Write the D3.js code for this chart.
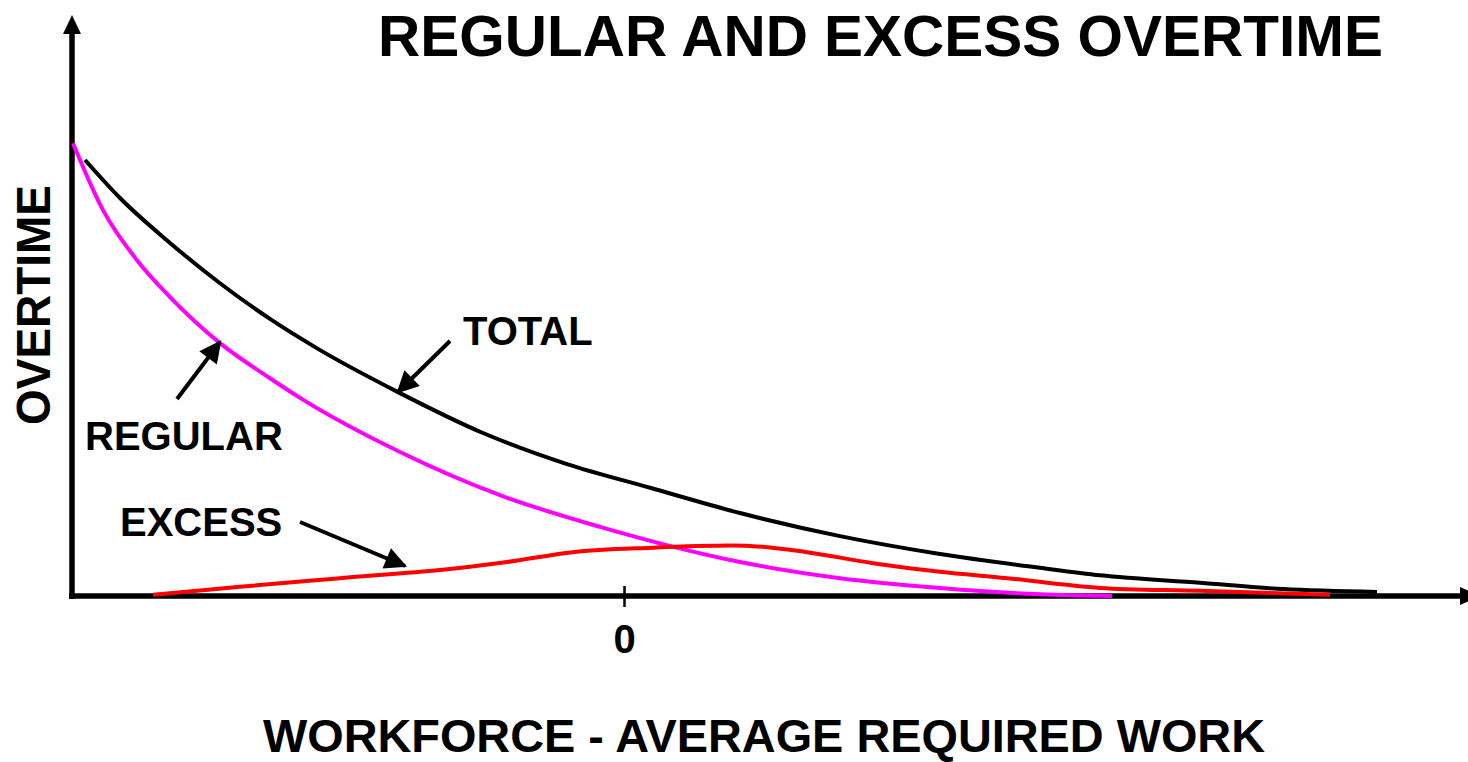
<!DOCTYPE html>
<html>
<head>
<meta charset="utf-8">
<script src="https://cdn.jsdelivr.net/npm/d3@7"></script>
<style>
  body { margin: 0; background: #fff; }
  svg { display: block; }
  text { font-family: "Liberation Sans", Arial, sans-serif; font-weight: bold; fill: #000; }
</style>
</head>
<body>
<div id="chart"></div>
<script>
// workforce minus average required work (0 = tick)
var totalX = [-5.39, -5.04, -4.54, -4.04, -3.54, -3.06, -2.26, -1.41, -0.57, 0.26, 1.16, 2.16, 3.16, 4.16, 4.76, 5.76, 6.59, 7.53];
var totalY = [7.57, 6.91, 6.13, 5.43, 4.81, 4.29, 3.54, 2.83, 2.29, 1.88, 1.44, 1.04, 0.73, 0.49, 0.36, 0.23, 0.12, 0.07];

var regularX = [-5.51, -5.21, -4.87, -4.54, -4.04, -3.54, -3.24, -2.24, -1.24, -0.24, 1.16, 2.16, 3.16, 4.16, 4.88];
var regularY = [7.86, 6.7, 5.83, 5.19, 4.39, 3.78, 3.44, 2.5, 1.75, 1.2, 0.59, 0.31, 0.14, 0.03, 0.0];

var excessX = [-4.71, -3.84, -2.84, -1.84, -1.17, -0.51, 0.16, 1.26, 1.83, 2.49, 3.16, 3.83, 4.76, 5.76, 7.06];
var excessY = [0.02, 0.16, 0.31, 0.45, 0.59, 0.76, 0.83, 0.87, 0.76, 0.57, 0.42, 0.31, 0.14, 0.09, 0.02];

var xTicks = [0];

var width = 1468,
    height = 762;

var x = d3.scaleLinear().domain([-5.52, 8.44]).range([72, 1468]);
var y = d3.scaleLinear().domain([0, 10]).range([596, 20]);

var svg = d3.select('#chart').append('svg')
    .attr('width', width)
    .attr('height', height);

var smooth = d3.line()
    .x(function (d) { return x(d[0]); })
    .y(function (d) { return y(d[1]); })
    .curve(d3.curveMonotoneX);

var bump = d3.line()
    .x(function (d) { return x(d[0]); })
    .y(function (d) { return y(d[1]); })
    .curve(d3.curveCatmullRom.alpha(0.5));

function pairs(xs, ys) {
    return xs.map(function (v, i) { return [v, ys[i]]; });
}

// axes
var xAxis = d3.axisBottom(x).tickValues(xTicks).tickSizeInner(11).tickSizeOuter(0).tickPadding(18);
var gx = svg.append('g')
    .attr('transform', 'translate(0,' + y(0) + ')')
    .call(xAxis);
gx.select('.domain').remove();
gx.selectAll('.tick line').attr('y1', -10).attr('stroke', '#000').attr('stroke-width', 2.5);
gx.selectAll('.tick text')
    .style('font-size', '40px')
    .style('font-family', '"Liberation Sans", Arial, sans-serif')
    .style('font-weight', 'bold')
    .attr('fill', '#000');

svg.append('line')
    .attr('x1', 69).attr('x2', 1462)
    .attr('y1', y(0)).attr('y2', y(0))
    .attr('stroke', '#000').attr('stroke-width', 5.5);
svg.append('path')
    .attr('d', 'M1460,' + (y(0) - 9) + 'L1480,' + y(0) + 'L1460,' + (y(0) + 9) + 'Z')
    .attr('fill', '#000');

svg.append('line')
    .attr('x1', x.range()[0]).attr('x2', x.range()[0])
    .attr('y1', 599).attr('y2', 30)
    .attr('stroke', '#000').attr('stroke-width', 5.5);
svg.append('path')
    .attr('d', 'M63,34L72,15L81,34Z')
    .attr('fill', '#000');

// curves
svg.append('path')
    .datum(pairs(regularX, regularY))
    .attr('d', smooth)
    .attr('fill', 'none')
    .attr('stroke', '#ff00ff')
    .attr('stroke-width', 4);

svg.append('path')
    .datum(pairs(totalX, totalY))
    .attr('d', smooth)
    .attr('fill', 'none')
    .attr('stroke', '#000')
    .attr('stroke-width', 4);

svg.append('path')
    .datum(pairs(excessX, excessY))
    .attr('d', bump)
    .attr('fill', 'none')
    .attr('stroke', '#ff0000')
    .attr('stroke-width', 4);

// annotation arrows
svg.append('defs').append('marker')
    .attr('id', 'head')
    .attr('viewBox', '0 0 10 10')
    .attr('refX', 9).attr('refY', 5)
    .attr('markerWidth', 6).attr('markerHeight', 5.5)
    .attr('markerUnits', 'strokeWidth')
    .attr('orient', 'auto')
    .append('path')
    .attr('d', 'M0,0L10,5L0,10Z')
    .attr('fill', '#000');

var arrows = [
    [450, 341, 398, 392],
    [177, 399, 220, 342],
    [300, 522, 405, 566]
];
svg.selectAll('.arrow')
    .data(arrows)
    .enter().append('line')
    .attr('class', 'arrow')
    .attr('x1', function (d) { return d[0]; })
    .attr('y1', function (d) { return d[1]; })
    .attr('x2', function (d) { return d[2]; })
    .attr('y2', function (d) { return d[3]; })
    .attr('stroke', '#000')
    .attr('stroke-width', 4)
    .attr('marker-end', 'url(#head)');

// labels
svg.append('text').attr('x', 463).attr('y', 345).style('font-size', '40px').text('TOTAL');
svg.append('text').attr('x', 85).attr('y', 450).style('font-size', '40px').text('REGULAR');
svg.append('text').attr('x', 120).attr('y', 536).style('font-size', '40px').text('EXCESS');

svg.append('text')
    .attr('x', 378).attr('y', 56)
    .attr('textLength', 1005).attr('lengthAdjust', 'spacingAndGlyphs')
    .style('font-size', '58px')
    .text('REGULAR AND EXCESS OVERTIME');

svg.append('text')
    .attr('x', 263).attr('y', 752)
    .attr('textLength', 1002).attr('lengthAdjust', 'spacingAndGlyphs')
    .style('font-size', '46px')
    .text('WORKFORCE - AVERAGE REQUIRED WORK');

svg.append('text')
    .attr('transform', 'translate(50,305) rotate(-90)')
    .attr('text-anchor', 'middle')
    .attr('textLength', 240).attr('lengthAdjust', 'spacingAndGlyphs')
    .style('font-size', '48px')
    .text('OVERTIME');
</script>
</body>
</html>
